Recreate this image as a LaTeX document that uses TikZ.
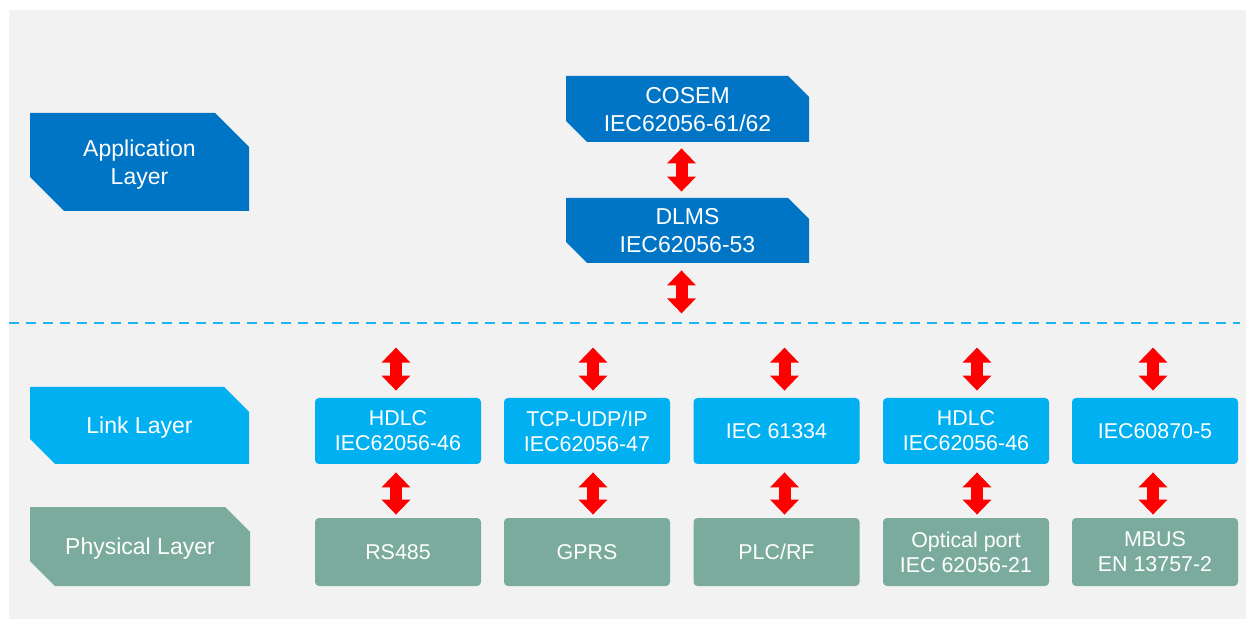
\documentclass[tikz,border=0pt]{standalone}
\usepackage{fontspec}
\setmainfont{Liberation Sans}
\usetikzlibrary{arrows.meta,positioning}
\definecolor{panel}{RGB}{242,242,242}
\definecolor{appblue}{RGB}{0,117,198}
\definecolor{linkblue}{RGB}{0,176,240}
\definecolor{physgreen}{RGB}{122,171,157}
\definecolor{sepblue}{RGB}{30,180,240}
\tikzset{
    labeltext/.style={text=white, align=center, inner sep=0pt, text depth=-1.5pt, font=\fontsize{11.5}{14}\selectfont},
    % rectangle with two cut corners (north east and south west)
    layerbox/.style n args={2}{labeltext, rectangle, fill=panel,
        path picture={\fill[#1] (path picture bounding box.north west)
            -- ([xshift=-#2]path picture bounding box.north east)
            -- ([yshift=-#2]path picture bounding box.north east)
            -- (path picture bounding box.south east)
            -- ([xshift=#2]path picture bounding box.south west)
            -- ([yshift=#2]path picture bounding box.south west) -- cycle;}},
    stdbox/.style={labeltext, rectangle, rounded corners=2pt, minimum width=83pt, font=\fontsize{10.7}{12.5}\selectfont},
    dblarrow/.style={red, line width=6pt, {Triangle[length=7.5pt,width=14pt]}-{Triangle[length=7.5pt,width=14pt]}},
    sepline/.style={sepblue, line width=1pt, dash pattern=on 5pt off 3.5pt}
}
\begin{document}
\begin{tikzpicture}[x=0.5pt,y=-0.5pt]
    \useasboundingbox (0,0) rectangle (1246,619);
    \fill[panel] (9,10) rectangle (1246,619);
    % layer names
    \node[layerbox={appblue}{17pt}, minimum width=109.5pt, minimum height=49pt] (app) at (139.5,162) {Application\\Layer};
    \node[layerbox={linkblue}{12.5pt}, minimum width=109.5pt, minimum height=38.5pt] (link) at (139.5,425.5) {Link Layer};
    \node[layerbox={physgreen}{12.5pt}, minimum width=110pt, minimum height=39.5pt] (phys) at (140,546.5) {Physical Layer};
    % application protocols
    \node[layerbox={appblue}{10.5pt}, minimum width=121.5pt, minimum height=33pt] (cosem) at (687.5,109) {COSEM\\IEC62056-61/62};
    \node[layerbox={appblue}{10.5pt}, minimum width=121.5pt, minimum height=32.5pt] (dlms) at (687.5,230.5) {DLMS\\IEC62056-53};
    \draw[dblarrow, shorten <=3pt, shorten >=3pt] ([xshift=-3pt]cosem.south) -- ([xshift=-3pt]dlms.north);
    \coordinate[below=25pt of dlms.south, xshift=-3pt] (dlmsend);
    \draw[dblarrow, shorten <=3.5pt] ([xshift=-3pt]dlms.south) -- (dlmsend);
    % boundary
    \coordinate (sepl) at (9,323);
    \coordinate (sepr) at (1240,323);
    \draw[sepline] (sepl) -- (sepr);
    % link and physical columns
    \foreach \i/\x/\dx/\lk/\ph in {1/398/-1pt/{HDLC\\IEC62056-46}/{RS485},
                                  2/587/3pt/{TCP-UDP/IP\\IEC62056-47}/{GPRS},
                                  3/776.5/4pt/{IEC 61334}/{PLC/RF},
                                  4/966/5.5pt/{HDLC\\IEC62056-46}/{Optical port\\IEC 62056-21},
                                  5/1155/-1pt/{IEC60870-5}/{MBUS\\EN 13757-2}}{
        \node[stdbox, fill=linkblue, minimum height=33pt] (lk\i) at (\x,431) {\lk};
        \node[stdbox, fill=physgreen, minimum height=34pt] (ph\i) at (\x,552) {\ph};
        \coordinate (up\i) at ([xshift=\dx, yshift=25pt]lk\i.north);
        \draw[dblarrow, shorten >=3.5pt] (up\i) -- ([xshift=\dx]lk\i.north);
        \draw[dblarrow, shorten <=4pt, shorten >=1.5pt] ([xshift=\dx]lk\i.south) -- ([xshift=\dx]ph\i.north);
    }
\end{tikzpicture}
\end{document}
